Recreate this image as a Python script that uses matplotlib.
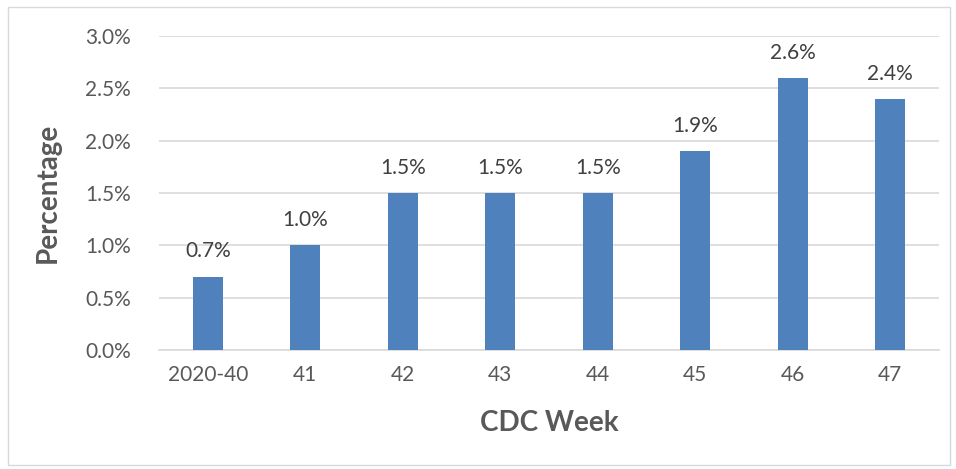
import numpy as np
import matplotlib.pyplot as plt
from matplotlib.patches import Rectangle
from matplotlib.ticker import FuncFormatter

# data
weeks = ['2020-40', '41', '42', '43', '44', '45', '46', '47']
pct = [0.7, 1.0, 1.5, 1.5, 1.5, 1.9, 2.6, 2.4]

W, H = 956, 469
fig = plt.figure(figsize=(W / 100, H / 100), dpi=100)
plt.rcParams['font.family'] = ['Lato', 'DejaVu Sans']

# frame round the chart
fig.patches.append(Rectangle((8 / W, 4 / H), 942 / W, 458 / H, transform=fig.transFigure,
                             fill=False, edgecolor='#d9d9d9', linewidth=1))

ax = fig.add_axes([159 / W, (H - 350) / H, 780 / W, 314 / H])
x = np.arange(len(weeks))
ax.bar(x, pct, width=0.31, color='#4f81bd', zorder=3)

for xi, v in zip(x, pct):
    ax.annotate('%.1f%%' % v, (xi, v), xytext=(0, 11), textcoords='offset points',
                ha='center', va='bottom', fontsize=15, color='#404040')

ax.set_xlim(-0.5, len(weeks) - 0.5)
ax.set_ylim(0, 3.0)
ax.set_yticks(np.arange(0, 3.01, 0.5))
ax.yaxis.set_major_formatter(FuncFormatter(lambda v, p: '%.1f%%' % v))
ax.set_xticks(x)
ax.set_xticklabels(weeks)
ax.tick_params(axis='both', length=0, labelsize=15, colors='#595959', pad=11)
ax.tick_params(axis='y', pad=20)
ax.grid(axis='y', color='#d9d9d9', linewidth=1.2, zorder=0)
for s in ['top', 'right', 'left']:
    ax.spines[s].set_visible(False)
ax.spines['bottom'].set_color('#d9d9d9')
ax.spines['bottom'].set_linewidth(1.2)

ax.set_xlabel('CDC Week', fontsize=20, fontweight='bold', color='#595959', labelpad=18)
ax.set_ylabel('Percentage', fontsize=20, fontweight='bold', color='#595959', labelpad=18)

fig.savefig('out.png', dpi=100)
